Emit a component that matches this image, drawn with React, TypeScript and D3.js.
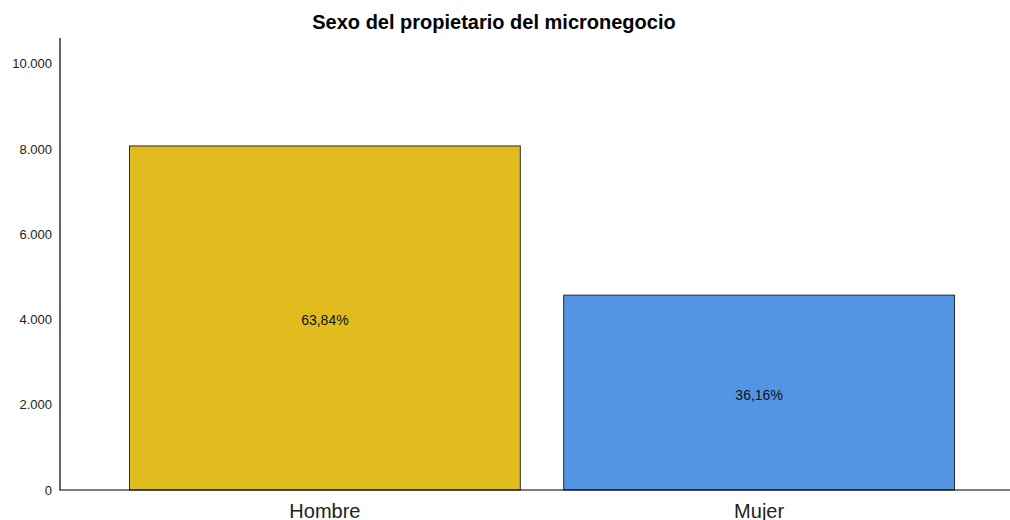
import React from "react";
import * as d3 from "d3";

const categories = ["Hombre", "Mujer"];
const counts = [8076, 4574];
const percents = ["63,84%", "36,16%"];
const yTicks = [0, 2000, 4000, 6000, 8000, 10000];
const colors = ["#E0BC1F", "#5495E3"];
const title = "Sexo del propietario del micronegocio";

const W = 1010;
const H = 520;
const fmt = (v: number) => (v === 0 ? "0" : d3.format(",")(v).replace(/,/g, "."));

export default function App() {
  const x = d3
    .scaleBand<string>()
    .domain(categories)
    .range([60, 1024])
    .paddingInner(0.1)
    .paddingOuter(0.16);
  const y = d3.scaleLinear().domain([0, 10610]).range([490, 38]);

  return (
    <svg
      width={W}
      height={H}
      style={{ position: "absolute", left: 0, top: 0, background: "#fff" }}
      fontFamily="'Liberation Sans', Arial, sans-serif"
    >
      <text x={494} y={29} textAnchor="middle" fontSize={20} fontWeight="bold" fill="#000">
        {title}
      </text>
      {yTicks.map((t) => (
        <text key={t} x={52} y={y(t) + 4.5} textAnchor="end" fontSize={13} fill="#222">
          {fmt(t)}
        </text>
      ))}
      {categories.map((c, i) => (
        <g key={c}>
          <rect
            x={x(c)!}
            y={y(counts[i])}
            width={x.bandwidth()}
            height={y(0) - y(counts[i])}
            fill={colors[i]}
            stroke="#2a2a2a"
            strokeWidth={1}
          />
          <text
            x={x(c)! + x.bandwidth() / 2}
            y={(y(counts[i]) + y(0)) / 2 + 7.5}
            textAnchor="middle"
            fontSize={14}
            fill="#111"
          >
            {percents[i]}
          </text>
          <text
            x={x(c)! + x.bandwidth() / 2}
            y={518}
            textAnchor="middle"
            fontSize={20}
            fill="#222"
          >
            {c}
          </text>
        </g>
      ))}
      <line x1={60} x2={60} y1={38} y2={490.5} stroke="#000" strokeWidth={1.2} />
      <line x1={60} x2={1010} y1={490} y2={490} stroke="#000" strokeWidth={1.2} />
    </svg>
  );
}
